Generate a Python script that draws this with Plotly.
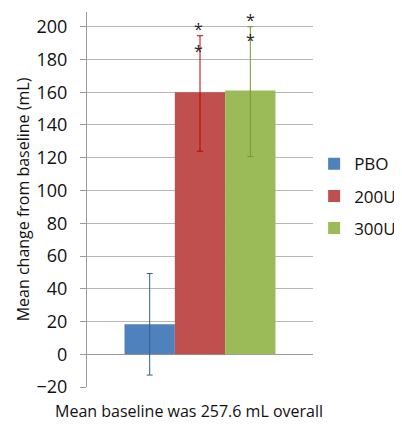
import plotly.graph_objects as go

categories = ["Overall"]
groups = ["PBO", "200U", "300U"]
means = [18.3, 160, 161]
err_plus = [31, 34.5, 39]
err_minus = [31, 36, 40.3]
bar_colors = ["#4f81bd", "#c0504d", "#9bbb59"]
err_colors = ["#385d8a", "#c00000", "#77933c"]
star_values = [[], [198.8, 185.4], [204.2, 191.8]]
y_ticks = [-20, 0, 20, 40, 60, 80, 100, 120, 140, 160, 180, 200]
x_title = "Mean baseline was 257.6 mL overall"
y_title = "Mean change from baseline (mL)"

FONT = "Open Sans"

fig = go.Figure()
for i, g in enumerate(groups):
    fig.add_trace(go.Bar(
        x=categories, y=[means[i]], name=g,
        marker=dict(color=bar_colors[i], line=dict(width=0)),
        legendgroup=g,
        error_y=dict(type="data", symmetric=False, array=[err_plus[i]],
                     arrayminus=[err_minus[i]], color=err_colors[i],
                     thickness=1, width=3),
    ))

xshifts = [-50, -2, 50]
for i, vals in enumerate(star_values):
    for v in vals:
        fig.add_annotation(x=categories[0], y=v, text="*", showarrow=False,
                           xshift=xshifts[i], font=dict(family=FONT, size=16, color="#222"))

fig.add_annotation(x=0.4535, y=-0.064, xref="paper", yref="paper", text=x_title,
                   showarrow=False, font=dict(family=FONT, size=16, color="#111"),
                   yanchor="middle")

# page body has an 8px margin: figure drawn at (8, 8)
fig.update_layout(
    width=394, height=417,
    margin=dict(l=79, r=89, t=4, b=38, autoexpand=False),
    plot_bgcolor="white", paper_bgcolor="white",
    barmode="group", bargap=0.332, bargroupgap=0,
    font=dict(family=FONT, color="#111"),
    showlegend=True,
    legend=dict(x=1.005, y=0.642, xanchor="left", yanchor="top",
                traceorder="grouped", tracegroupgap=7,
                font=dict(family=FONT, size=17, color="#111"),
                bgcolor="rgba(0,0,0,0)"),
    xaxis=dict(showticklabels=False, showgrid=False, zeroline=False,
               showline=False, ticks=""),
    yaxis=dict(range=[-20, 209], tickvals=y_ticks, showgrid=True,
               gridcolor="#b7b7b7", gridwidth=1, zeroline=True,
               zerolinecolor="#9a9a9a", zerolinewidth=1,
               showline=True, linecolor="#9a9a9a", linewidth=1,
               ticks="outside", ticklen=6, tickcolor="#9a9a9a",
               ticklabelstandoff=9,
               tickfont=dict(family=FONT, size=18, color="#111"),
               title=dict(text=y_title, font=dict(family=FONT, size=16, color="#111"),
                          standoff=2)),
)

fig.write_html("out.html")
